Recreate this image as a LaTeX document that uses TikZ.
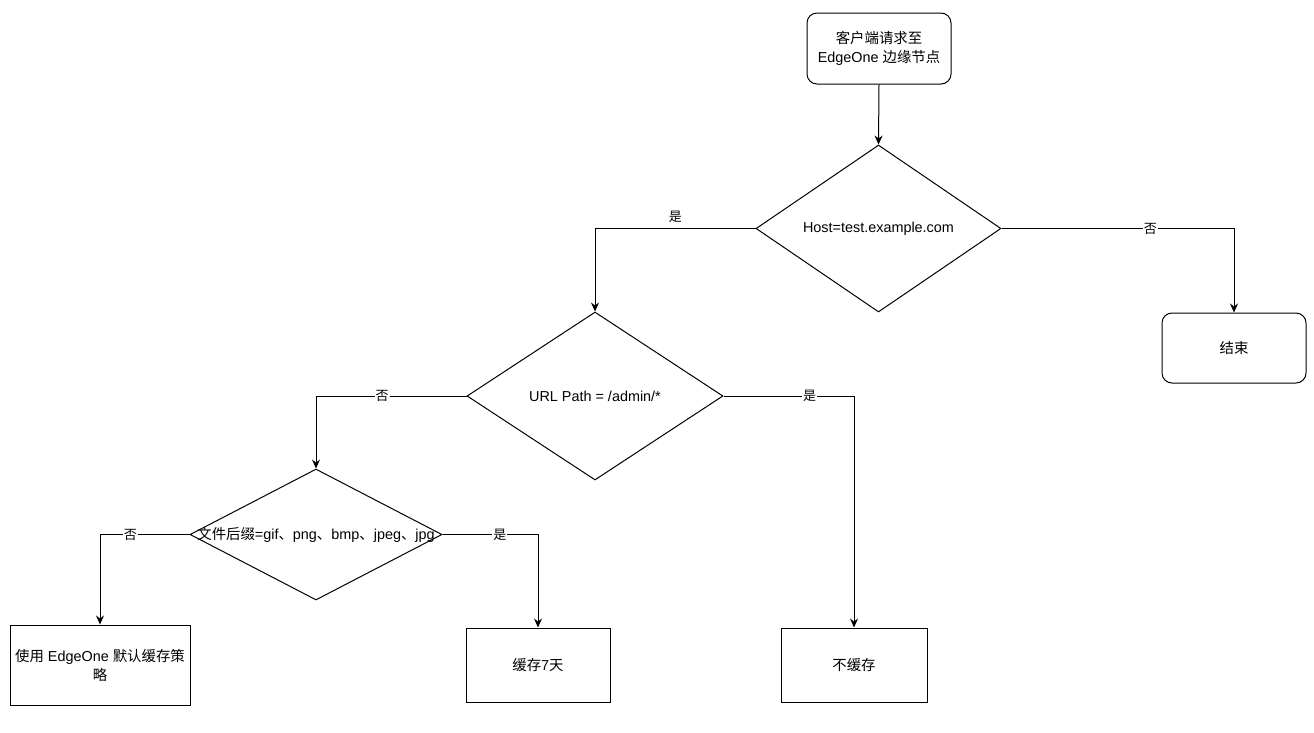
\documentclass[tikz,border=0pt]{standalone}
\usepackage{fontspec}
\setmainfont{Liberation Sans}
\newfontfamily\cjk{Noto Sans CJK SC}
\newcommand{\zh}[1]{{\cjk #1}}
\usetikzlibrary{shapes.geometric,arrows.meta}

\begin{document}
\begin{tikzpicture}[x=1pt, y=-1pt, line width=1pt,
	every node/.style={font=\fontsize{14.4}{19}\selectfont},
	roundbox/.style={draw, rounded corners=10pt, inner sep=0pt, align=center},
	plainbox/.style={draw, inner sep=0pt, align=center},
	decision/.style={draw, diamond, inner sep=0pt},
	answer/.style={font=\fontsize{13}{15}\selectfont, fill=white, inner sep=1pt},
	arrow/.style={-{Stealth[length=9pt, width=8pt, inset=3pt]}}]
				\useasboundingbox (0, 0) rectangle (1314, 732);
				\node [roundbox, minimum width=144pt, minimum height=71pt] (request) at (879, 48.5) {\zh{客户端请求至}\\EdgeOne \zh{边缘节点}};
				\node [decision, minimum width=245pt, minimum height=167pt, label=center:{Host=test.example.com}] (host) at (878.5, 228.5) {};
				\node [roundbox, minimum width=144pt, minimum height=70pt] (finish) at (1234, 348) {\zh{结束}};
				\node [decision, minimum width=256pt, minimum height=168pt, label=center:{URL Path = /admin/*}] (path) at (595, 396) {};
				\node [decision, minimum width=252pt, minimum height=131pt, label=center:{\zh{文件后缀}=gif\zh{、}png\zh{、}bmp\zh{、}jpeg\zh{、}jpg}] (suffix) at (316, 534.5) {};
				\node [plainbox, minimum width=180pt, minimum height=80pt] (default) at (100, 665) {\zh{使用} EdgeOne \zh{默认缓存策}\\\zh{略}};
				\node [plainbox, minimum width=144pt, minimum height=74pt] (week) at (538, 665) {\zh{缓存}7\zh{天}};
				\node [plainbox, minimum width=146pt, minimum height=74pt] (nocache) at (854, 665) {\zh{不缓存}};

				\draw [arrow] (request.south)--(host.north);
				\draw [arrow] (host.west) -| node [pos=0.25, above=4pt, answer, fill=none] {\zh{是}} (path.north);
				\draw [arrow] (host.east) -| node [pos=0.32, answer] {\zh{否}} (finish.north);
				\draw [arrow] (path.west) -| node [pos=0.28, answer] {\zh{否}} (suffix.north);
				\draw [arrow] (path.east) -| node [pos=0.33, answer] {\zh{是}} (nocache.north);
				\draw [arrow] (suffix.west) -| node [pos=0.33, answer] {\zh{否}} (default.north);
				\draw [arrow] (suffix.east) -| node [pos=0.3, answer] {\zh{是}} (week.north);

			\end{tikzpicture}
\end{document}
